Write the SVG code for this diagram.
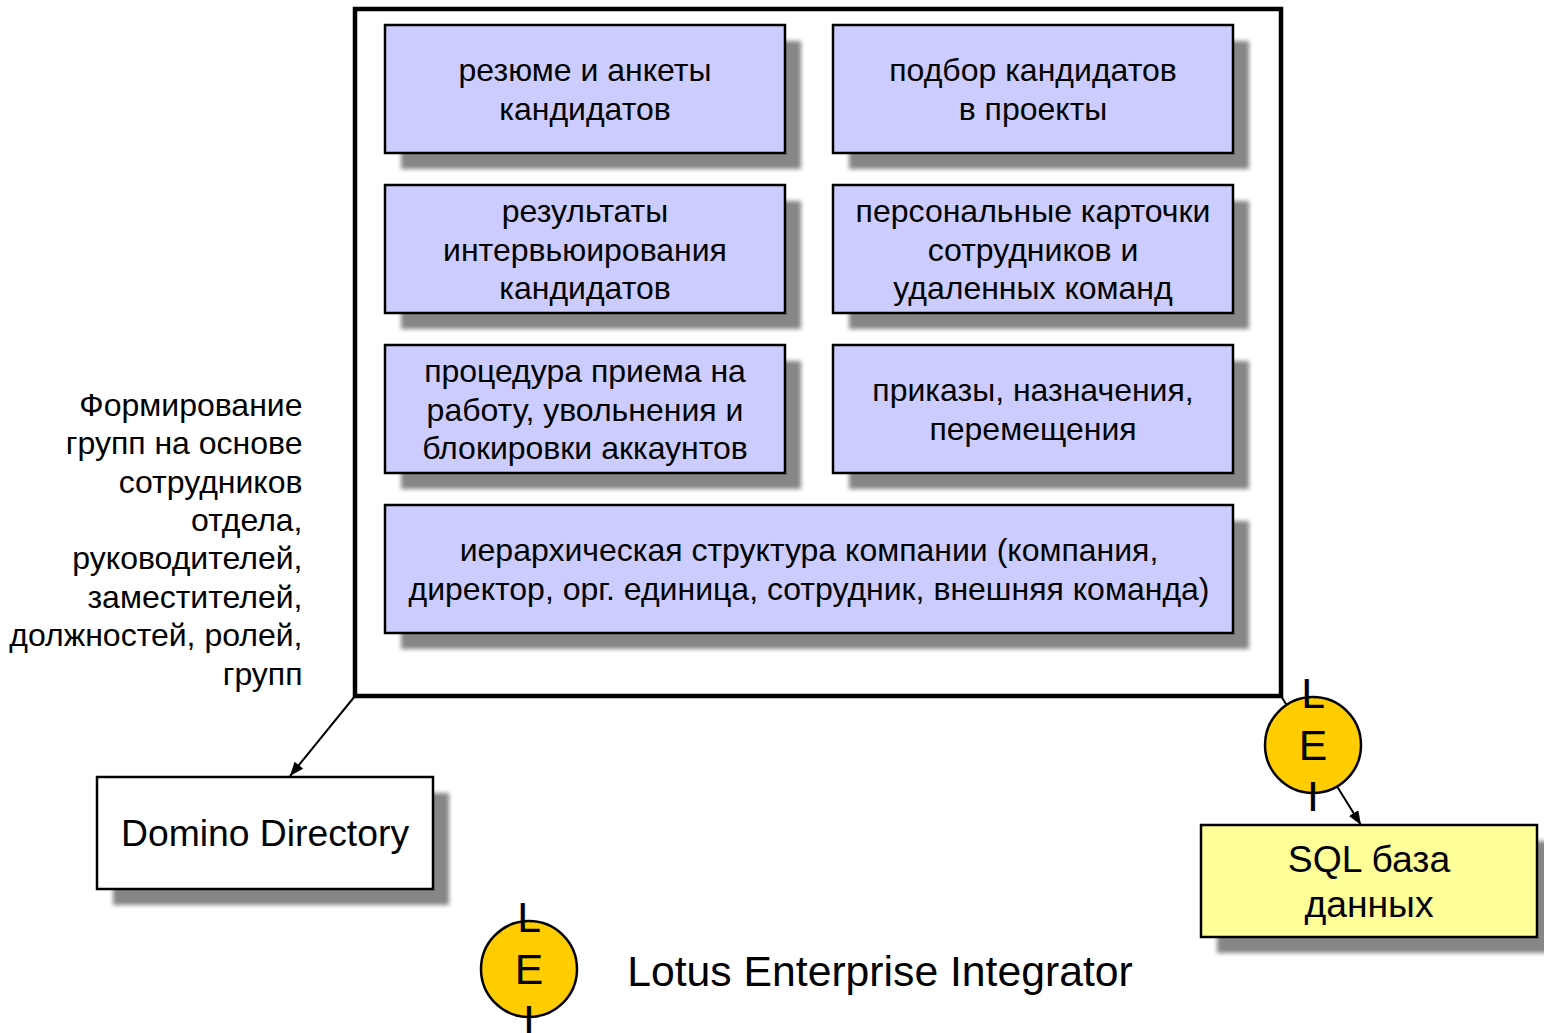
<svg xmlns="http://www.w3.org/2000/svg" width="1544" height="1033" viewBox="0 0 1544 1033">
<style>
text{font-family:"Liberation Sans",Arial,sans-serif;fill:#000;text-anchor:middle}
.t{font-size:32px}
.r{font-size:32px;text-anchor:end}
.b{stroke:#000;stroke-width:2.5}
.blue{fill:#ccccff}
.s{fill:#868686;filter:url(#blur)}
.c{fill:#ffcc00;stroke:#000;stroke-width:2.5}
.e{font-size:42.7px}
.big{font-size:37.3px}
.conn{stroke:#000;stroke-width:2;fill:none;marker-end:url(#arrow)}
</style>
<defs>
<filter id="blur" x="-5%" y="-8%" width="110%" height="116%"><feGaussianBlur stdDeviation="2"/></filter>
<marker id="arrow" markerUnits="userSpaceOnUse" markerWidth="15" markerHeight="12" refX="14" refY="5.5" orient="auto"><path d="M0 0L14 5.5L0 11Z" fill="#000"/></marker>
</defs>
<rect width="1544" height="1033" fill="#fff"/>
<g id="connectors">
<line class="conn" x1="355" y1="696" x2="290" y2="776"/>
<line class="conn" x1="1281" y1="696" x2="1361" y2="825"/>
</g>
<g id="container"><rect x="355" y="9" width="926" height="687" fill="none" stroke="#000" stroke-width="4.5"/></g>
<g id="n1"><rect class="s" x="401" y="41" width="400" height="128"/><rect class="b blue" x="385" y="25" width="400" height="128"/><text class="t" x="585" y="81">резюме и анкеты</text><text class="t" x="585" y="120">кандидатов</text></g>
<g id="n2"><rect class="s" x="849" y="41" width="400" height="128"/><rect class="b blue" x="833" y="25" width="400" height="128"/><text class="t" x="1033" y="81">подбор кандидатов</text><text class="t" x="1033" y="120">в проекты</text></g>
<g id="n3"><rect class="s" x="401" y="201" width="400" height="128"/><rect class="b blue" x="385" y="185" width="400" height="128"/><text class="t" x="585" y="222">результаты</text><text class="t" x="585" y="261">интервьюирования</text><text class="t" x="585" y="299">кандидатов</text></g>
<g id="n4"><rect class="s" x="849" y="201" width="400" height="128"/><rect class="b blue" x="833" y="185" width="400" height="128"/><text class="t" x="1033" y="222">персональные карточки</text><text class="t" x="1033" y="261">сотрудников и</text><text class="t" x="1033" y="299">удаленных команд</text></g>
<g id="n5"><rect class="s" x="401" y="361" width="400" height="128"/><rect class="b blue" x="385" y="345" width="400" height="128"/><text class="t" x="585" y="382">процедура приема на</text><text class="t" x="585" y="421">работу, увольнения и</text><text class="t" x="585" y="459">блокировки аккаунтов</text></g>
<g id="n6"><rect class="s" x="849" y="361" width="400" height="128"/><rect class="b blue" x="833" y="345" width="400" height="128"/><text class="t" x="1033" y="401">приказы, назначения,</text><text class="t" x="1033" y="440">перемещения</text></g>
<g id="n7"><rect class="s" x="401" y="521" width="848" height="128"/><rect class="b blue" x="385" y="505" width="848" height="128"/><text class="t" x="809" y="561">иерархическая структура компании (компания,</text><text class="t" x="809" y="600">директор, орг. единица, сотрудник, внешняя команда)</text></g>
<g id="note">
<text class="r" x="302.5" y="416">Формирование</text>
<text class="r" x="302.5" y="454">групп на основе</text>
<text class="r" x="302.5" y="493">сотрудников</text>
<text class="r" x="302.5" y="531">отдела,</text>
<text class="r" x="302.5" y="569">руководителей,</text>
<text class="r" x="302.5" y="608">заместителей,</text>
<text class="r" x="302.5" y="646">должностей, ролей,</text>
<text class="r" x="302.5" y="685">групп</text>
</g>
<g id="domino"><rect class="s" x="113" y="793" width="336" height="112"/><rect class="b" fill="#fff" x="97" y="777" width="336" height="112"/><text class="big" x="265" y="846">Domino Directory</text></g>
<g id="sql"><rect class="s" x="1217" y="841" width="336" height="112"/><rect class="b" fill="#ffff99" x="1201" y="825" width="336" height="112"/><text class="big" x="1369" y="872">SQL база</text><text class="big" x="1369" y="917">данных</text></g>
<g id="lei1"><circle class="c" cx="1313" cy="745" r="48"/><text class="e" x="1313" y="708">L</text><text class="e" x="1313" y="759.5">E</text><text class="e" x="1313" y="811">I</text></g>
<g id="lei2"><circle class="c" cx="529" cy="969" r="48"/><text class="e" x="529" y="932">L</text><text class="e" x="529" y="983.5">E</text><text class="e" x="529" y="1035">I</text></g>
<g id="legend"><text x="880" y="986" font-size="42.7">Lotus Enterprise Integrator</text></g>
</svg>
